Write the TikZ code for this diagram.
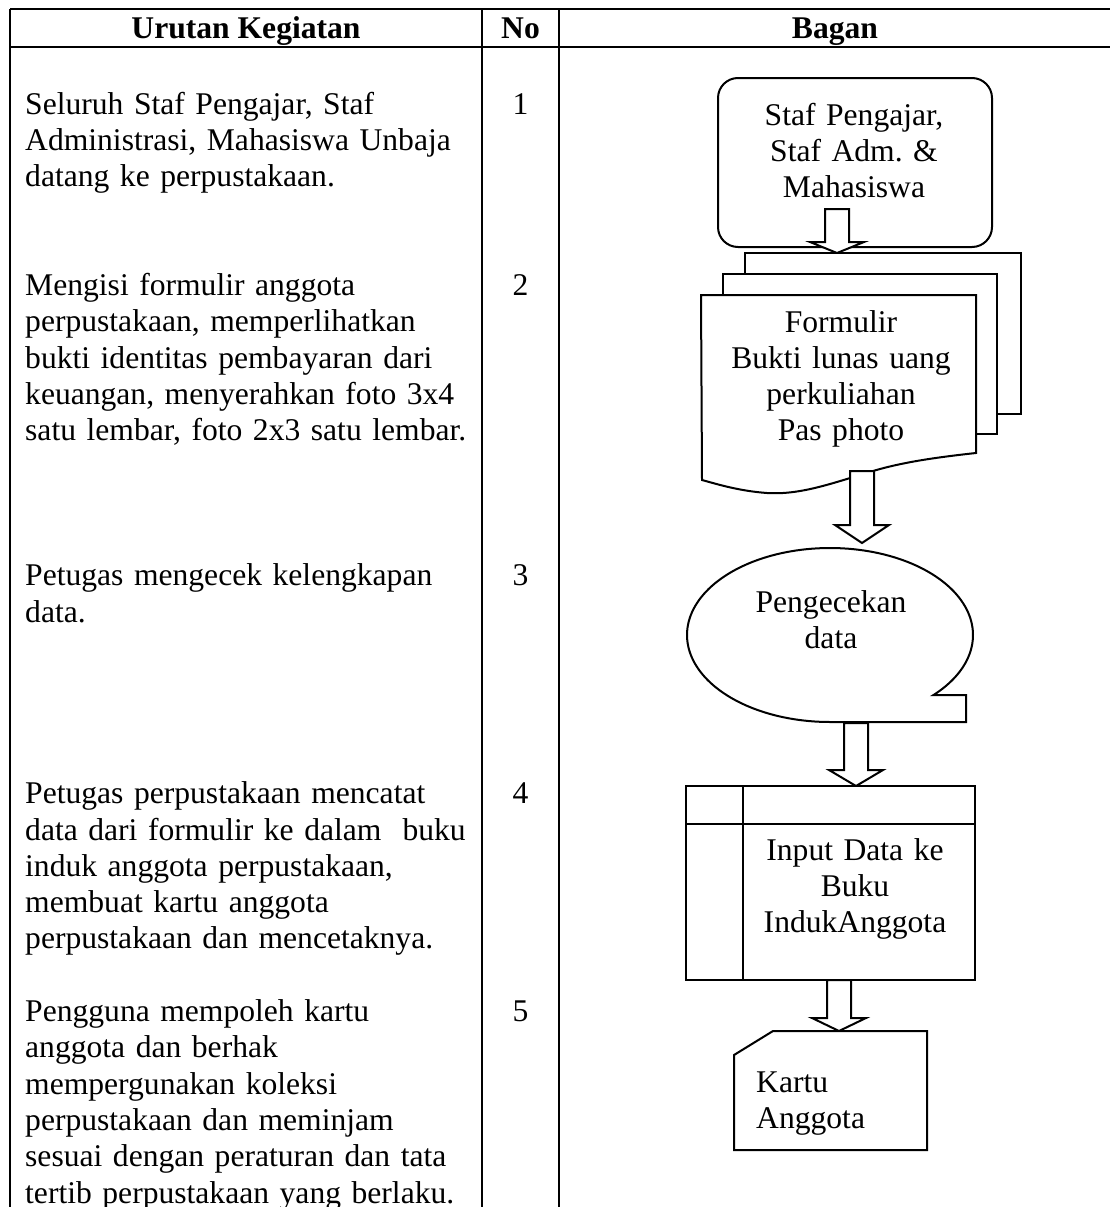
\documentclass[tikz,border=0pt]{standalone}
\usepackage{fontspec}
\setmainfont{Liberation Serif}
\frenchspacing
\newcommand\bodyfnt{\fontsize{31.6}{36.3}\selectfont}
\newcommand\blockarr[4]{% centre x, top y, head base y, tip y
  \draw[shp] (#1-12,#2) -- (#1+12,#2) -- (#1+12,#3) -- (#1+27,#3) -- (#1,#4)
    -- (#1-27,#3) -- (#1-12,#3) -- cycle;}
\begin{document}
\begin{tikzpicture}[x=1pt,y=-1pt,
  tbl/.style={line width=2.6pt},
  shp/.style={draw, line width=2pt, fill=white, line join=miter},
  desc/.style={anchor=base west, inner sep=0pt, text width=455pt, align=left, font=\bodyfnt},
  num/.style={anchor=base, inner sep=0pt, font=\bodyfnt},
  head/.style={anchor=base, inner sep=0pt, font=\bodyfnt\bfseries},
  lbl/.style={anchor=base, inner sep=0pt, text width=270pt, align=center, font=\bodyfnt},
]
\clip (0,0) rectangle (1110,1207);
% table
\draw[tbl] (10,9) -- (1115,9);
\draw[tbl] (10,47) -- (1115,47);
\draw[tbl] (10,9) -- (10,1215);
\draw[tbl] (482,9) -- (482,1215);
\draw[tbl] (559,9) -- (559,1215);
\node[head] (h1) at (246,39) {Urutan Kegiatan};
\node[head] (h2) at (520.5,39) {No};
\node[head] (h3) at (835,39) {Bagan};
% descriptions
\node[desc] (d1) at (25,114) {Seluruh Staf Pengajar, Staf\\Administrasi, Mahasiswa Unbaja\\datang ke perpustakaan.};
\node[desc] (d2) at (25,295.5) {Mengisi formulir anggota\\perpustakaan, memperlihatkan\\bukti identitas pembayaran dari\\keuangan, menyerahkan foto 3x4\\satu lembar, foto 2x3 satu lembar.};
\node[desc] (d3) at (25,585.9) {Petugas mengecek kelengkapan\\data.};
\node[desc] (d4) at (25,803.7) {Petugas perpustakaan mencatat\\data dari formulir ke dalam\ \ buku\\induk anggota perpustakaan,\\membuat kartu anggota\\perpustakaan dan mencetaknya.};
\node[desc] (d5) at (25,1021.5) {Pengguna mempoleh kartu\\anggota dan berhak\\mempergunakan koleksi\\perpustakaan dan meminjam\\sesuai dengan peraturan dan tata\\tertib perpustakaan yang berlaku.};
\node[num] (n1) at (520.5,114) {1};
\node[num] (n2) at (520.5,295.5) {2};
\node[num] (n3) at (520.5,585.9) {3};
\node[num] (n4) at (520.5,803.7) {4};
\node[num] (n5) at (520.5,1021.5) {5};
% shape 1: terminator
\draw[shp, rounded corners=20pt] (718,78) rectangle (992,247);
\blockarr{837}{209}{242}{253}
% shape 2: multi-document
\draw[shp] (745,253) rectangle (1021,414);
\draw[shp] (723,274) rectangle (997,434);
\draw[shp] (701,295) -- (976,295) -- (976,453)
  .. controls (930,458) and (900,463) .. (873,471)
  .. controls (830,484) and (800,495) .. (767,493)
  .. controls (740,491) and (720,485) .. (702,480) -- cycle;
\blockarr{862}{471}{525}{543}
% shape 3: sequential storage
\draw[shp] plot[domain=43.8:-270, samples=150, variable=\t]
  ({830+143*cos(\t)},{635+87*sin(\t)}) -- (966,722) -- (966,695) -- cycle;
\blockarr{856}{723}{770}{786}
% shape 4: internal storage
\draw[shp] (686,786) rectangle (975,980);
\draw[line width=2pt] (686,824) -- (975,824);
\draw[line width=2pt] (743,786) -- (743,980);
\blockarr{839}{980}{1018}{1031}
% shape 5: card
\draw[shp] (734,1055) -- (773,1031) -- (927,1031) -- (927,1150) -- (734,1150) -- cycle;
% shape texts
\node[lbl] (t1) at (854,125) {Staf Pengajar,\\Staf Adm. \&\\Mahasiswa};
\node[lbl] (t2) at (841,332) {Formulir\\Bukti lunas uang\\perkuliahan\\Pas photo};
\node[lbl] (t3) at (831,612) {Pengecekan\\data};
\node[lbl] (t4) at (855,860) {Input Data ke\\Buku\\IndukAnggota};
\node[desc, text width=160pt] (t5) at (756,1092) {Kartu\\Anggota};
\end{tikzpicture}
\end{document}
